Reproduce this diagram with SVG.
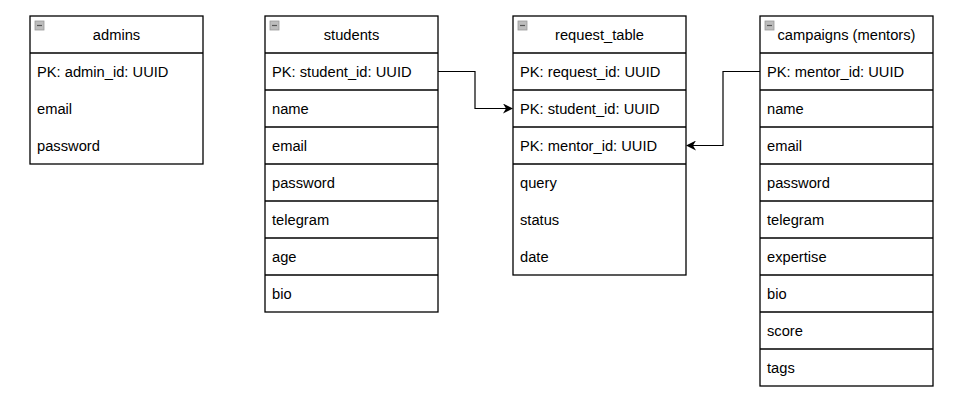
<svg xmlns="http://www.w3.org/2000/svg" width="958" height="405" viewBox="0 0 958 405">
<style>
.box{fill:#fff;stroke:#000;stroke-width:1.3}
.sep{stroke:#000;stroke-width:1.3}
.t{font-family:"Liberation Sans",Arial,sans-serif;font-size:14.7px;fill:#000}
.h{text-anchor:middle}
.ico{fill:#bdbdbd;stroke:#9a9a9a;stroke-width:0.8}
.icl{stroke:#555;stroke-width:1.2}
.con{fill:none;stroke:#000;stroke-width:1.2}
</style>
<defs>
<marker id="arr" viewBox="0 0 10 10" refX="9" refY="5" markerWidth="10" markerHeight="10" markerUnits="userSpaceOnUse" orient="auto">
<path d="M0,0 L10,5 L0,10 L3,5 Z" fill="#000"/>
</marker>
<g id="icon"><rect class="ico" x="0" y="0" width="9" height="9"/><line class="icl" x1="2" y1="4.5" x2="7" y2="4.5"/></g>
</defs>
<rect width="958" height="405" fill="#fff"/>
<g id="admins">
<rect class="box" x="30" y="16" width="173" height="148"/>
<line class="sep" x1="30" y1="53" x2="203" y2="53"/>
<use href="#icon" x="35" y="21"/>
<text class="t h" x="116.5" y="39.5">admins</text>
<text class="t" x="37" y="76.5">PK: admin_id: UUID</text>
<text class="t" x="37" y="113.5">email</text>
<text class="t" x="37" y="150.5">password</text>
</g>
<g id="students">
<rect class="box" x="265" y="16" width="173" height="296"/>
<g class="sep"><line x1="265" y1="53" x2="438" y2="53"/><line x1="265" y1="90" x2="438" y2="90"/><line x1="265" y1="127" x2="438" y2="127"/><line x1="265" y1="164" x2="438" y2="164"/><line x1="265" y1="201" x2="438" y2="201"/><line x1="265" y1="238" x2="438" y2="238"/><line x1="265" y1="275" x2="438" y2="275"/></g>
<use href="#icon" x="270" y="21"/>
<text class="t h" x="351.5" y="39.5">students</text>
<text class="t" x="272" y="76.5">PK: student_id: UUID</text>
<text class="t" x="272" y="113.5">name</text>
<text class="t" x="272" y="150.5">email</text>
<text class="t" x="272" y="187.5">password</text>
<text class="t" x="272" y="224.5">telegram</text>
<text class="t" x="272" y="261.5">age</text>
<text class="t" x="272" y="298.5">bio</text>
</g>
<g id="request_table">
<rect class="box" x="513" y="16" width="173" height="259"/>
<g class="sep"><line x1="513" y1="53" x2="686" y2="53"/><line x1="513" y1="90" x2="686" y2="90"/><line x1="513" y1="127" x2="686" y2="127"/><line x1="513" y1="164" x2="686" y2="164"/></g>
<use href="#icon" x="518" y="21"/>
<text class="t h" x="599.5" y="39.5">request_table</text>
<text class="t" x="520" y="76.5">PK: request_id: UUID</text>
<text class="t" x="520" y="113.5">PK: student_id: UUID</text>
<text class="t" x="520" y="150.5">PK: mentor_id: UUID</text>
<text class="t" x="520" y="187.5">query</text>
<text class="t" x="520" y="224.5">status</text>
<text class="t" x="520" y="261.5">date</text>
</g>
<g id="campaigns">
<rect class="box" x="760" y="16" width="173" height="370"/>
<g class="sep"><line x1="760" y1="53" x2="933" y2="53"/><line x1="760" y1="90" x2="933" y2="90"/><line x1="760" y1="127" x2="933" y2="127"/><line x1="760" y1="164" x2="933" y2="164"/><line x1="760" y1="201" x2="933" y2="201"/><line x1="760" y1="238" x2="933" y2="238"/><line x1="760" y1="275" x2="933" y2="275"/><line x1="760" y1="312" x2="933" y2="312"/><line x1="760" y1="349" x2="933" y2="349"/></g>
<use href="#icon" x="765" y="21"/>
<text class="t h" x="846.5" y="39.5">campaigns (mentors)</text>
<text class="t" x="767" y="76.5">PK: mentor_id: UUID</text>
<text class="t" x="767" y="113.5">name</text>
<text class="t" x="767" y="150.5">email</text>
<text class="t" x="767" y="187.5">password</text>
<text class="t" x="767" y="224.5">telegram</text>
<text class="t" x="767" y="261.5">expertise</text>
<text class="t" x="767" y="298.5">bio</text>
<text class="t" x="767" y="335.5">score</text>
<text class="t" x="767" y="372.5">tags</text>
</g>
<g id="connectors">
<path class="con" d="M438,71.5 H475 V108.5 H512" marker-end="url(#arr)"/>
<path class="con" d="M760,71.5 H723 V145.5 H687" marker-end="url(#arr)"/>
</g>
</svg>
